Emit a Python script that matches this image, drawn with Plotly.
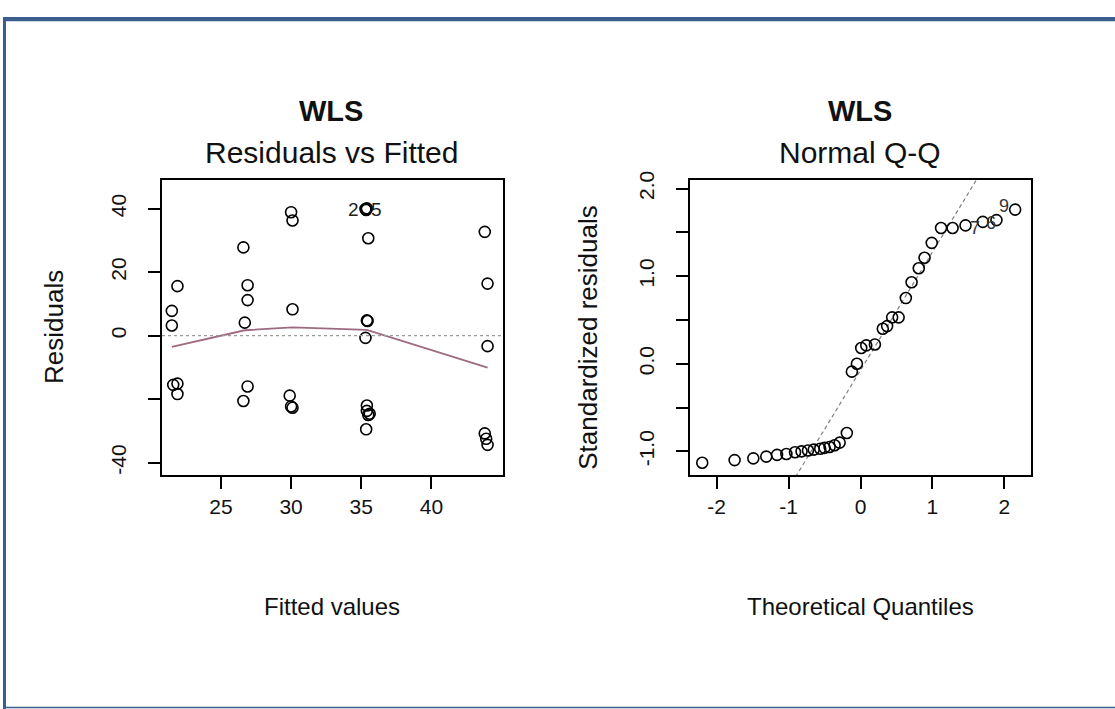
import plotly.graph_objects as go

# ---------------- data ----------------
fitted = [21.9, 21.5, 21.5, 21.6, 21.9, 21.9,
          26.6, 26.9, 26.9, 26.7, 26.9, 26.6,
          30.0, 30.1, 30.1, 29.9, 30.0, 30.1,
          35.3, 35.35, 35.4, 35.5, 35.4, 35.45, 35.3, 35.4, 35.4, 35.6, 35.5, 35.35,
          43.8, 44.0, 44.0, 43.8, 43.9, 44.0]
residuals = [15.6, 7.8, 3.2, -15.5, -15.1, -18.4,
             27.8, 15.9, 11.2, 4.1, -16.0, -20.6,
             38.9, 36.3, 8.3, -18.9, -22.3, -22.7,
             39.9, 39.6, 40.1, 30.7, 4.8, 4.6, -0.7, -22.0, -23.7, -24.6, -25.0, -29.5,
             32.7, 16.4, -3.3, -30.8, -32.5, -34.4]

smooth_x = [21.5, 26.7, 30.1, 35.4, 44.0]
smooth_y = [-3.5, 1.7, 2.6, 1.8, -10.1]

resid_label_point = (35.3, 39.9)
resid_labels = ["2", "5"]

theoretical_q = [-2.20, -1.75, -1.49, -1.31, -1.16, -1.03, -0.91, -0.82, -0.73, -0.65,
                 -0.56, -0.50, -0.43, -0.36, -0.29, -0.19, -0.12, -0.05, 0.01, 0.08,
                 0.20, 0.31, 0.37, 0.44, 0.53, 0.63, 0.71, 0.81, 0.89, 0.99,
                 1.12, 1.28, 1.46, 1.70, 1.89, 2.15]
std_resid = [-1.13, -1.10, -1.08, -1.06, -1.04, -1.03, -1.01, -1.00, -0.99, -0.98,
             -0.97, -0.96, -0.95, -0.93, -0.90, -0.79, -0.09, 0.00, 0.18, 0.21,
             0.22, 0.40, 0.43, 0.53, 0.53, 0.75, 0.93, 1.09, 1.21, 1.38,
             1.55, 1.55, 1.58, 1.62, 1.64, 1.76]
qq_labels = ["7", "6", "9"]          # for the three largest points
qq_intercept = -0.074
qq_slope = 1.349

left_xticks = [25, 30, 35, 40]
left_xtext = ["25", "30", "35", "40"]
left_yticks = [-40, -20, 0, 20, 40]
left_ytext = ["-40", "", "0", "20", "40"]
right_xticks = [-2, -1, 0, 1, 2]
right_xtext = ["-2", "-1", "0", "1", "2"]
right_yticks = [-1.0, -0.5, 0.0, 0.5, 1.0, 1.5, 2.0]
right_ytext = ["-1.0", "", "0.0", "", "1.0", "", "2.0"]

left_xrange = [20.8, 45.1]
left_yrange = [-43.9, 49.1]
right_xrange = [-2.37, 2.37]
right_yrange = [-1.27, 2.10]

# ---------------- figure ----------------
W, H = 1115, 709
FONT = "Liberation Sans, Arial, sans-serif"

def px(x):
    return x / W

def py(y):
    return 1 - y / H

fig = go.Figure()

marker = dict(symbol="circle-open", size=11, color="black", line=dict(width=1.6, color="black"))

fig.add_trace(go.Scatter(x=fitted, y=residuals, mode="markers", marker=marker,
                         xaxis="x", yaxis="y", showlegend=False, hoverinfo="x+y"))
fig.add_trace(go.Scatter(x=smooth_x, y=smooth_y, mode="lines",
                         line=dict(color="#9e6a82", width=1.8),
                         xaxis="x", yaxis="y", showlegend=False, hoverinfo="skip"))

qx = right_xrange
qy = [qq_intercept + qq_slope * v for v in qx]
fig.add_trace(go.Scatter(x=qx, y=qy, mode="lines",
                         line=dict(color="#808080", width=1.2, dash="4px,3px"),
                         xaxis="x2", yaxis="y2", showlegend=False, hoverinfo="skip"))
fig.add_trace(go.Scatter(x=theoretical_q, y=std_resid, mode="markers", marker=marker,
                         xaxis="x2", yaxis="y2", showlegend=False, hoverinfo="x+y"))

axis_common = dict(showgrid=False, zeroline=False, showline=True, mirror=True,
                   linecolor="black", linewidth=1.8, ticks="outside", ticklen=12,
                   tickwidth=1.5, tickcolor="black",
                   tickfont=dict(family=FONT, size=21, color="#111"))

ydom = [py(472), py(173)]
fig.update_layout(
    width=W, height=H, autosize=False,
    margin=dict(l=0, r=0, t=0, b=0),
    paper_bgcolor="white", plot_bgcolor="white",
    xaxis=dict(domain=[px(162), px(503)], range=left_xrange, tickvals=left_xticks,
               ticktext=left_xtext, anchor="y", **axis_common),
    yaxis=dict(domain=ydom, range=left_yrange, tickvals=left_yticks, ticktext=left_ytext,
               tickangle=-90, ticklabelstandoff=14, anchor="x", **axis_common),
    xaxis2=dict(domain=[px(690), px(1031)], range=right_xrange, tickvals=right_xticks,
                ticktext=right_xtext, anchor="y2", **axis_common),
    yaxis2=dict(domain=ydom, range=right_yrange, tickvals=right_yticks, ticktext=right_ytext,
                tickangle=-90, ticklabelstandoff=14, anchor="x2", **axis_common),
)

shapes = [
    # zero reference line in residual plot
    dict(type="line", xref="x domain", x0=0, x1=1, yref="y", y0=0, y1=0,
         line=dict(color="#9a9a9a", width=1.2, dash="3px,3px")),
    # page frame
    dict(type="rect", xref="paper", yref="paper", x0=px(3), x1=1, y0=py(12.5), y1=py(8),
         fillcolor="#3a5e8e", line=dict(width=0)),
    dict(type="rect", xref="paper", yref="paper", x0=px(3), x1=px(6), y0=py(709), y1=py(8),
         fillcolor="#3a5e8e", line=dict(width=0)),
    dict(type="line", xref="paper", yref="paper", x0=px(3), x1=1, y0=py(707.5), y1=py(707.5),
         line=dict(color="#3a5e8e", width=1.5)),
]
fig.update_layout(shapes=shapes)

ann = []
def text(x, y, s, size, bold=False, angle=0, color="#111"):
    ann.append(dict(xref="paper", yref="paper", x=px(x), y=py(y), text=f"<b>{s}</b>" if bold else s,
                    showarrow=False, xanchor="center", yanchor="middle", textangle=angle,
                    font=dict(family=FONT, size=size, color=color)))

text(331, 103, "WLS", 29, bold=True)
text(331, 145, "Residuals vs Fitted", 30)
text(860, 103, "WLS", 29, bold=True)
text(860, 145, "Normal Q-Q", 30)
text(332, 605, "Fitted values", 24)
text(860, 605, "Theoretical Quantiles", 24)
text(54, 322, "Residuals", 26, angle=-90)
text(588, 333, "Standardized residuals", 26, angle=-90)

# point id labels
ann.append(dict(xref="x", yref="y", x=resid_label_point[0], y=resid_label_point[1], text=resid_labels[0],
                showarrow=False, xanchor="right", xshift=-4, font=dict(family=FONT, size=19, color="#222")))
ann.append(dict(xref="x", yref="y", x=resid_label_point[0], y=resid_label_point[1], text=resid_labels[1],
                showarrow=False, xanchor="left", xshift=4, font=dict(family=FONT, size=19, color="#222")))
shifts = [(-1, -6), (2, -3), (-4, 4)]
for lab, xv, yv, (dx, dy) in zip(qq_labels, theoretical_q[-3:], std_resid[-3:], shifts):
    ann.append(dict(xref="x2", yref="y2", x=xv, y=yv, text=lab, showarrow=False,
                    xanchor="right", xshift=dx, yshift=dy,
                    font=dict(family=FONT, size=18, color="#333")))

fig.update_layout(annotations=ann)

fig.write_html("out.html",
               post_script="document.body.style.margin='0';document.body.style.overflow='hidden';")
